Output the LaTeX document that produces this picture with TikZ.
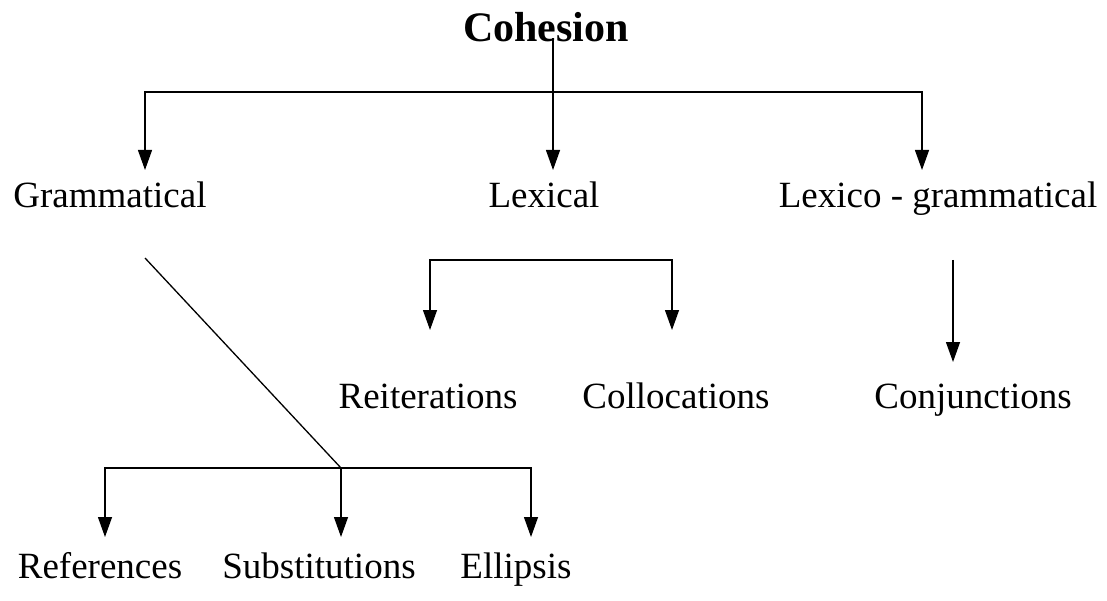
\documentclass[tikz,border=0pt]{standalone}
\usepackage{fontspec}
\setmainfont{Liberation Serif}
\usetikzlibrary{arrows.meta}
\begin{document}
\begin{tikzpicture}[x=1pt,y=-1pt,
  lbl/.style={inner sep=0pt,anchor=base,font=\fontsize{37}{40}\selectfont},
  ttl/.style={inner sep=0pt,anchor=base,font=\fontsize{42}{46}\selectfont\bfseries},
  conn/.style={line width=1.3pt},
  arr/.style={conn,-{Triangle[length=20pt,width=14pt]}}]
\useasboundingbox (0,0) rectangle (1107,601);
% nodes
\node[ttl] (coh) at (546,42) {Cohesion};
\node[lbl] (gram) at (110,208) {Grammatical};
\node[lbl] (lex) at (544,208) {Lexical};
\node[lbl] (lexg) at (938,208) {Lexico - grammatical};
\node[lbl] (reit) at (428,408) {Reiterations};
\node[lbl] (coll) at (676,408) {Collocations};
\node[lbl] (conj) at (973,408) {Conjunctions};
\node[lbl] (ref) at (100,578) {References};
\node[lbl] (subs) at (319,578) {Substitutions};
\node[lbl] (ell) at (516,578) {Ellipsis};
% junction coordinates
\coordinate (c0) at (553,38);
\coordinate (j1) at (553,92);
\coordinate (t1) at (553,170);
\coordinate (t2) at (145,170);
\coordinate (t3) at (922,170);
\coordinate (g0) at (145,258);
\coordinate (j2) at (341,468);
\coordinate (t4) at (105,537);
\coordinate (t5) at (341,537);
\coordinate (t6) at (531,537);
\coordinate (l0) at (430,260);
\coordinate (l1) at (672,260);
\coordinate (t7) at (430,330);
\coordinate (t8) at (672,330);
\coordinate (k0) at (953,260);
\coordinate (t9) at (953,362);
% connectors
\draw[arr] (c0) -- (t1);
\draw[arr] (j1) -| (t2);
\draw[arr] (j1) -| (t3);
\draw[conn] (g0) -- (j2);
\draw[arr] (j2) -| (t4);
\draw[arr] (j2) -- (t5);
\draw[arr] (j2) -| (t6);
\draw[arr] (l1) -| (t7);
\draw[arr] (l0) -| (t8);
\draw[arr] (k0) -- (t9);
\end{tikzpicture}
\end{document}
